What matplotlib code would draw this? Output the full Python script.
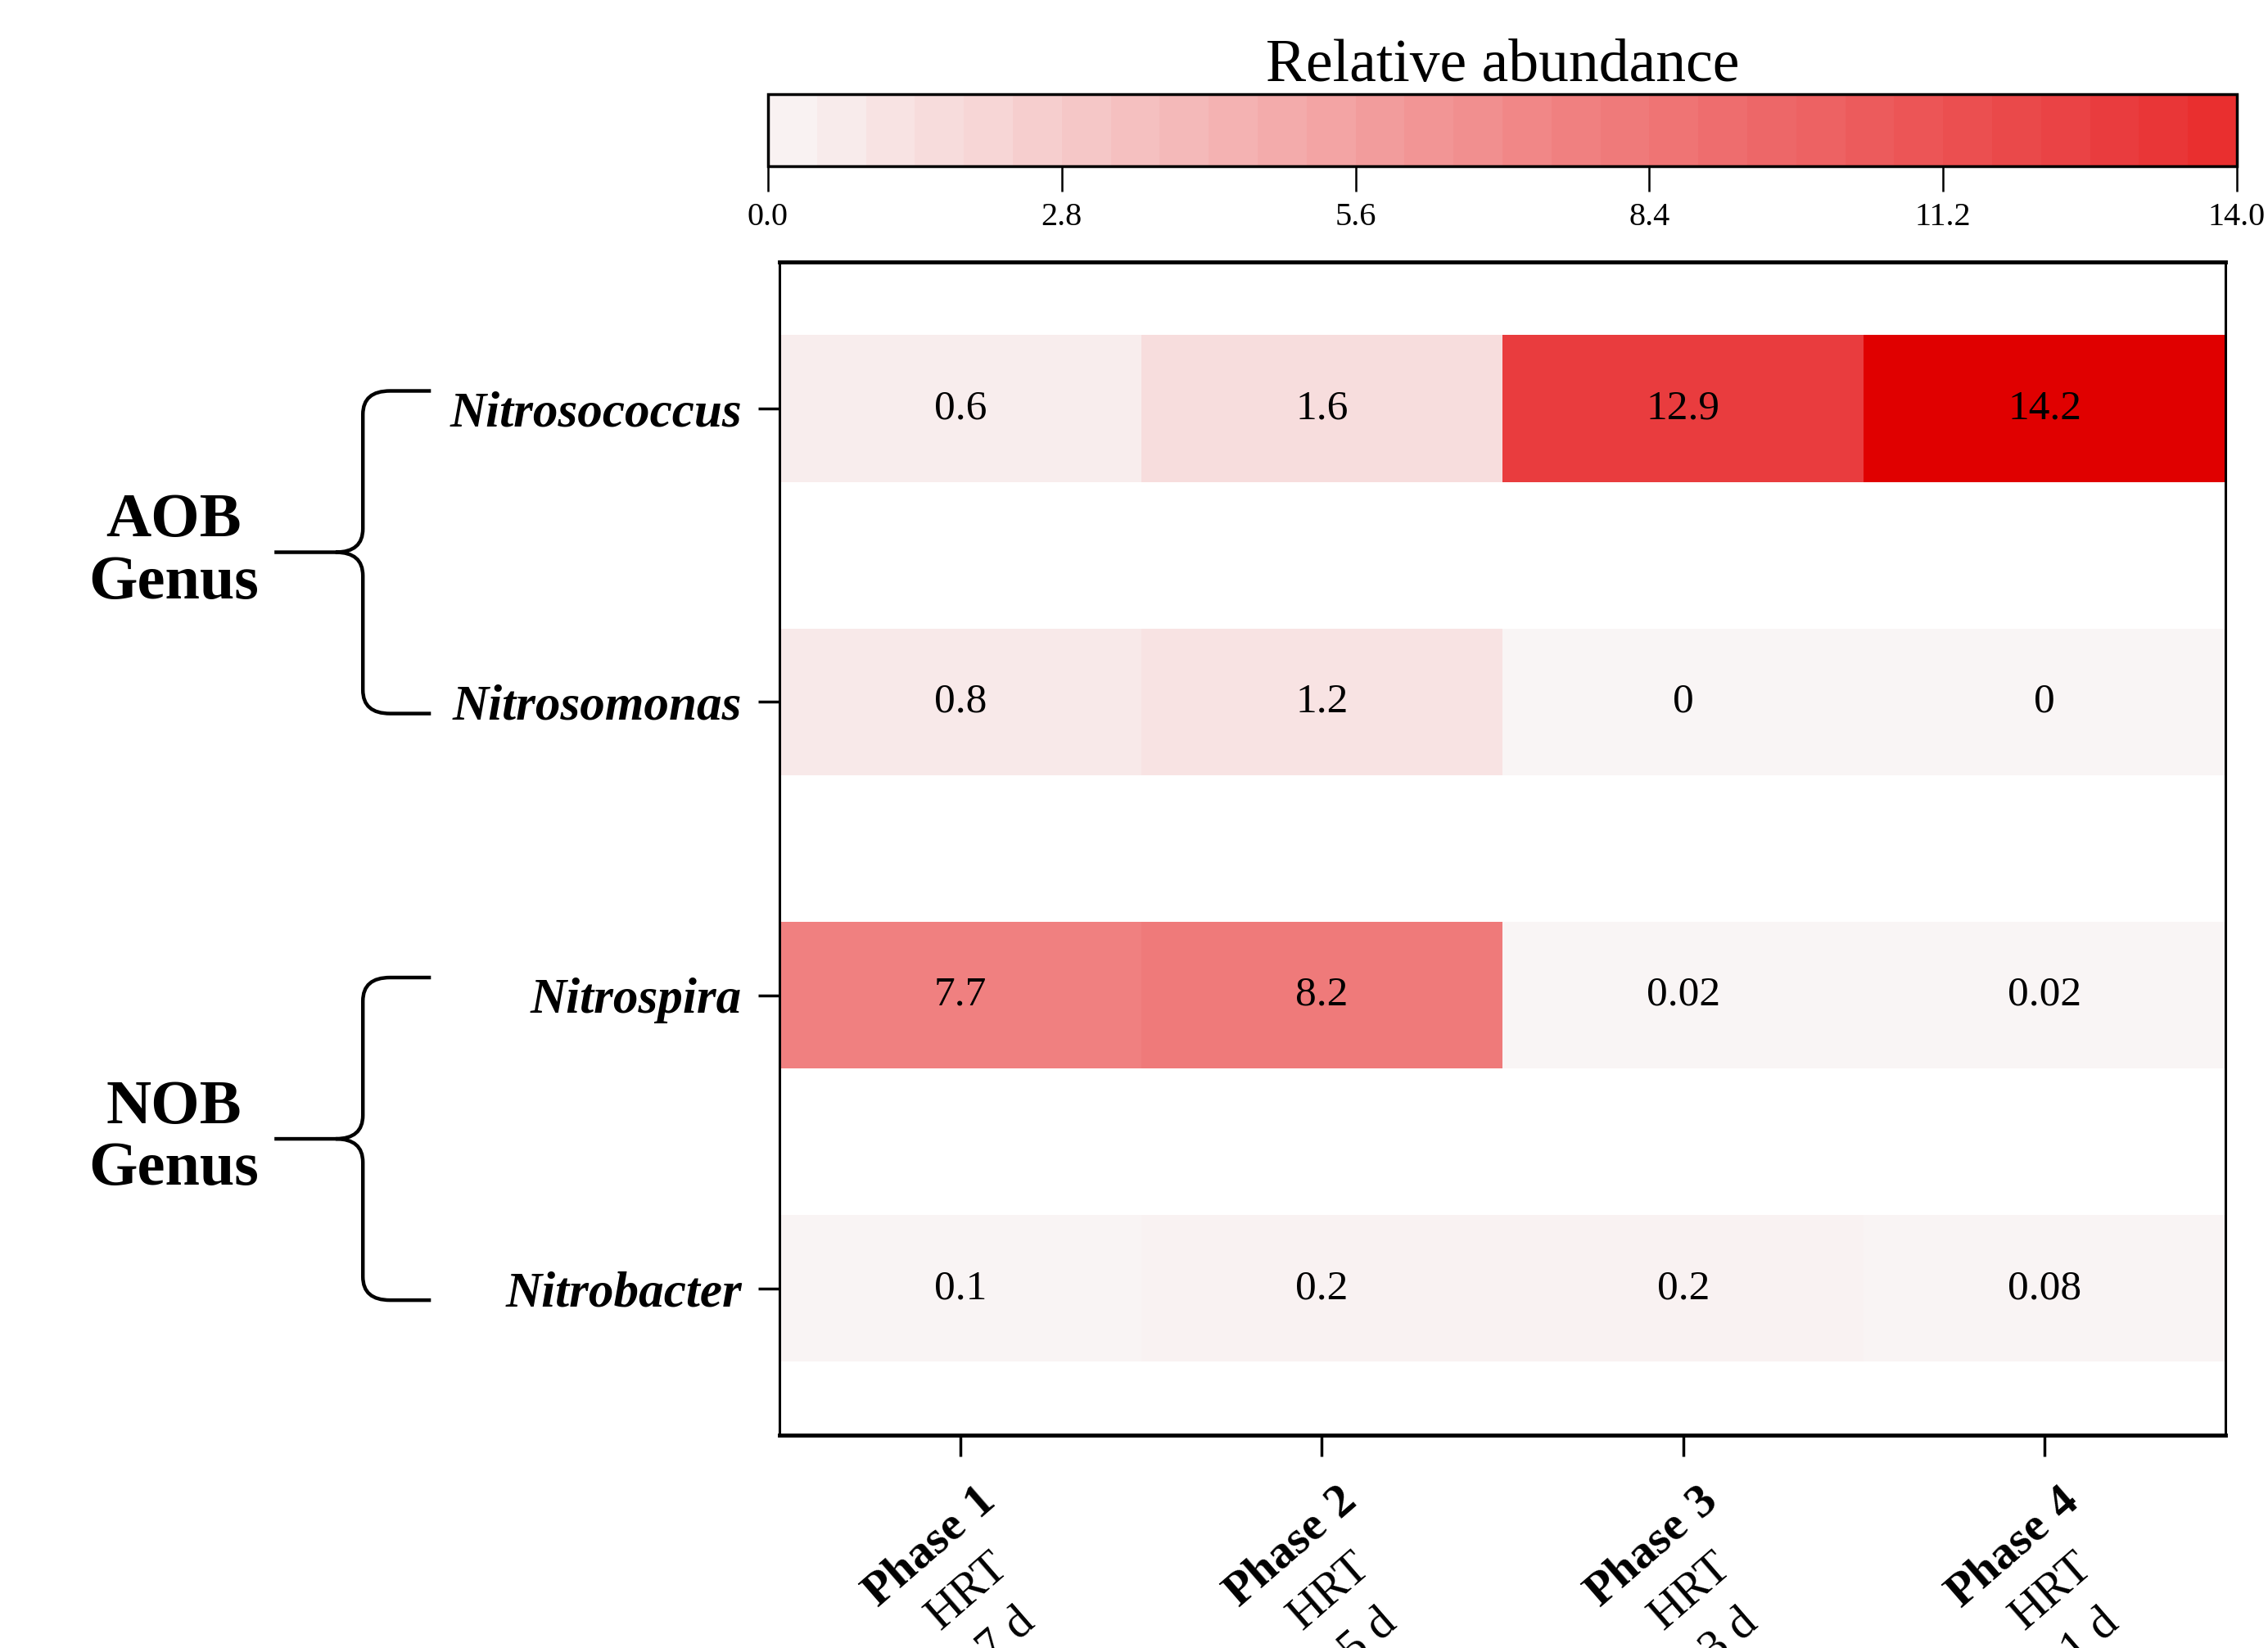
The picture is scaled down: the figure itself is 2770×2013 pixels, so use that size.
import numpy as np
import matplotlib
matplotlib.use('Agg')
import matplotlib.pyplot as plt
import matplotlib.transforms as mtransforms
from matplotlib.colors import LinearSegmentedColormap, Normalize
from matplotlib.path import Path
from matplotlib.patches import PathPatch

plt.rcParams['font.family'] = ['Liberation Serif', 'DejaVu Serif']
plt.rcParams['mathtext.fontset'] = 'custom'
plt.rcParams['mathtext.rm'] = 'Liberation Serif'
plt.rcParams['mathtext.bf'] = 'Liberation Serif:bold'

#----------data------------------------------*
genera = ['Nitrosococcus', 'Nitrosomonas', 'Nitrospira', 'Nitrobacter']
phases = ['Phase 1', 'Phase 2', 'Phase 3', 'Phase 4']
hrt = ['7 d', '5 d', '3 d', '1 d']
nitrosococcus = [0.6, 1.6, 12.9, 14.2]
nitrosomonas = [0.8, 1.2, 0, 0]
nitrospira = [7.7, 8.2, 0.02, 0.02]
nitrobacter = [0.1, 0.2, 0.2, 0.08]
groups = ['AOB\nGenus', 'NOB\nGenus']
group_rows = [(0, 1), (2, 3)]
cbar_ticks = [0.0, 2.8, 5.6, 8.4, 11.2, 14.0]

values = [nitrosococcus, nitrosomonas, nitrospira, nitrobacter]

#----------colours---------------------------*
vmax = 14.2
cmap = LinearSegmentedColormap.from_list(
    'abund', [(0.0, '#f9f5f5'), (7.7 / vmax, '#f08080'),
              (12.9 / vmax, '#e93c3e'), (14.0 / vmax, '#e92c2c'),
              (1.0, '#e00000')])
norm = Normalize(0, vmax)

#----------figure----------------------------*
fig = plt.figure(figsize=(27.7, 20.13), dpi=100)
ax = fig.add_axes([0.3437, 0.1292, 0.6375, 0.7119])
cax = fig.add_axes([0.3386, 0.8992, 0.6477, 0.0437])

# heatmap rows, each cell half the row slot
for i, row in enumerate(values):
    ax.barh(i, 1, left=np.arange(len(row)) - 0.5, height=0.5,
            color=cmap(norm(row)), linewidth=0)
    for j, v in enumerate(row):
        ax.text(j, i, '{:g}'.format(v), ha='center', va='center',
                fontsize=37, color='black')

ax.set_xlim(-0.5, 3.5)
ax.set_ylim(3.5, -0.5)
ax.set_yticks(range(len(genera)))
ax.set_yticklabels(genera, fontsize=44, fontweight='bold', style='italic')
ax.set_xticks(range(len(phases)))
ax.set_xticklabels([])
ax.tick_params(axis='y', length=19, width=2.5, pad=14)
ax.tick_params(axis='x', length=19, width=2.5)
for side in ['top', 'bottom']:
    ax.spines[side].set_linewidth(3.5)
for side in ['left', 'right']:
    ax.spines[side].set_linewidth(2.2)

# x labels: bold phase + HRT, rotated, placed under each tick
xtrans = mtransforms.blended_transform_factory(ax.transData, ax.transAxes) + \
    mtransforms.ScaledTranslation(0.18, -0.54, fig.dpi_scale_trans)
for j, (p, h) in enumerate(zip(phases, hrt)):
    lab = r'$\mathbf{%s}$' % p.replace(' ', r'\ ') + '\nHRT\n' + h
    ax.text(j, 0, lab, transform=xtrans, rotation=41, ha='right', va='top',
            rotation_mode='anchor', multialignment='center',
            fontsize=42, linespacing=1.5, clip_on=False)

#----------colour bar------------------------*
sm = plt.cm.ScalarMappable(norm=norm, cmap=cmap)
bounds = np.linspace(0, 14, 31)
cb = fig.colorbar(sm, cax=cax, orientation='horizontal',
                  boundaries=bounds, values=(bounds[:-1] + bounds[1:]) / 2)
cb.set_ticks(cbar_ticks)
cb.set_ticklabels(['%.1f' % t for t in cbar_ticks])
cb.outline.set_linewidth(2.5)
cax.tick_params(labelsize=29, length=22, width=1.8, pad=10)
cax.set_title('Relative abundance', fontsize=53, pad=8)

#----------group braces----------------------*
trans = mtransforms.blended_transform_factory(fig.transFigure, ax.transData)
x_tip, x_vert, x_arm = 0.121, 0.160, 0.190
rx, ry = 0.012, 0.08
for label, (r0, r1) in zip(groups, group_rows):
    top, bot = r0 - 0.06, r1 + 0.04
    mid = (top + bot) / 2
    verts = [(x_arm, top), (x_vert + rx, top), (x_vert, top),
             (x_vert, top + ry), (x_vert, mid - ry), (x_vert, mid),
             (x_vert - rx, mid), (x_tip, mid),
             (x_vert - rx, mid), (x_vert, mid), (x_vert, mid + ry),
             (x_vert, bot - ry), (x_vert, bot), (x_vert + rx, bot),
             (x_arm, bot)]
    codes = [Path.MOVETO, Path.LINETO, Path.CURVE3, Path.CURVE3,
             Path.LINETO, Path.CURVE3, Path.CURVE3, Path.LINETO,
             Path.MOVETO, Path.CURVE3, Path.CURVE3,
             Path.LINETO, Path.CURVE3, Path.CURVE3, Path.LINETO]
    fig.add_artist(PathPatch(Path(verts, codes), transform=trans,
                             fill=False, lw=3.2, color='black',
                             capstyle='butt', joinstyle='round'))
    fig.text(0.0765, ax.transData.transform((0, mid))[1] / fig.bbox.height,
             label, ha='center', va='center', fontsize=55,
             fontweight='bold', linespacing=1.12)

fig.savefig('out.png', dpi=100)
